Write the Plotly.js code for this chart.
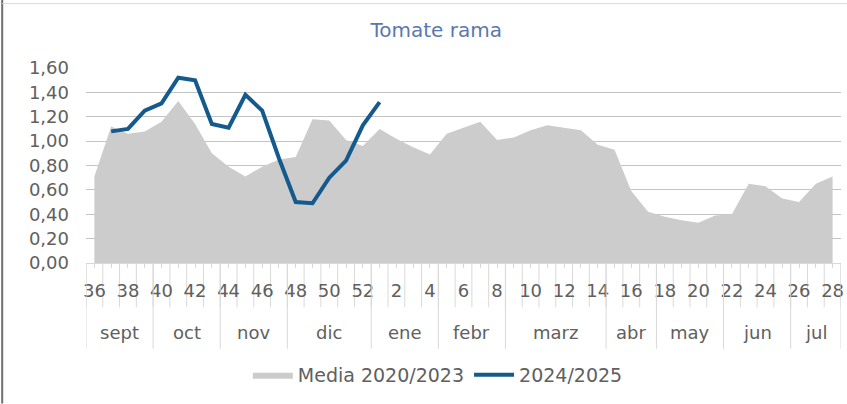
<!DOCTYPE html>
<html>
<head>
<meta charset="utf-8">
<script src="https://cdn.plot.ly/plotly-3.0.1.min.js"></script>
<style>html,body{margin:0;padding:0;background:#fff;}#chart{width:847px;height:404px;}</style>
</head>
<body>
<div id="chart"></div>
<script>
// Weeks (season Sept -> July)
const weeks = ["36","37","38","39","40","41","42","43","44","45","46","47","48","49","50","51","52",
  "1","2","3","4","5","6","7","8","9","10","11","12","13","14","15","16","17","18","19","20","21","22","23","24","25","26","27","28"];
// Media 2020/2023
const media = [0.71,1.12,1.06,1.08,1.16,1.33,1.14,0.90,0.79,0.71,0.79,0.85,0.87,1.18,1.17,1.01,0.96,
  1.10,1.02,0.95,0.89,1.06,1.11,1.16,1.01,1.03,1.09,1.13,1.11,1.09,0.97,0.93,0.59,0.42,0.38,0.35,0.33,0.39,0.40,0.65,0.63,0.53,0.50,0.65,0.71];
// 2024/2025
const season = [null,1.08,1.10,1.25,1.31,1.52,1.50,1.14,1.11,1.38,1.25,0.86,0.50,0.49,0.70,0.84,1.13,
  1.32,null,null,null,null,null,null,null,null,null,null,null,null,null,null,null,null,null,null,null,null,null,null,null,null,null,null,null];
// Month groups and number of weeks in each
const months = ["sept","oct","nov","dic","ene","febr","marz","abr","may","jun","jul"];
const monthWeeks = [4,4,4,5,4,4,6,3,4,4,3];
const yTicks = [0,0.2,0.4,0.6,0.8,1.0,1.2,1.4,1.6];

const FONT = "'DejaVu Sans', sans-serif";
const TXT = "#606060";

const tickText = weeks.map((w,i)=> i%2===0 ? w : "");

const shapes = [];
const annotations = [];
// boundary lines between every category
for (let i=0;i<=weeks.length;i++){
  shapes.push({type:"line", xref:"x", yref:"paper", x0:i-0.5, x1:i-0.5, y0:0, y1:-0.227,
    line:{color:"#d9d9d9", width:1}, layer:"below"});
}
// month separators and labels
let start = 0;
shapes.push({type:"line", xref:"x", yref:"paper", x0:-0.5, x1:-0.5, y0:0, y1:-0.44, line:{color:"#d9d9d9", width:1}});
months.forEach((m,k)=>{
  const end = start + monthWeeks[k];
  shapes.push({type:"line", xref:"x", yref:"paper", x0:end-0.5, x1:end-0.5, y0:0, y1:-0.44,
    line:{color:"#d9d9d9", width:1}});
  annotations.push({xref:"x", yref:"paper", x:(start+end-1)/2, y:-0.355, yanchor:"middle",
    text:m, showarrow:false, font:{family:FONT, size:18, color:TXT}});
  start = end;
});
// outer frame
shapes.push({type:"line", xref:"paper", yref:"paper", x0:-0.111, x1:-0.111, y0:-0.72, y1:1.35, line:{color:"#707070", width:2}});
shapes.push({type:"line", xref:"paper", yref:"paper", x0:-0.111, x1:1.01, y0:1.33, y1:1.33, line:{color:"#d9d9d9", width:1}});

const traces = [
  {type:"scatter", mode:"lines", name:"Media 2020/2023", x:weeks, y:media,
   fill:"tozeroy", fillcolor:"#cccccc", line:{color:"#cccccc", width:0}},
  {type:"scatter", mode:"lines", name:"2024/2025", x:weeks, y:season,
   line:{color:"#145a8c", width:4}, connectgaps:false}
];

const layout = {
  width:847, height:404,
  margin:{l:86, r:6, t:67.5, b:140.5},
  paper_bgcolor:"#ffffff", plot_bgcolor:"#ffffff",
  separators:",.",
  title:{text:"Tomate rama", x:0.515, xref:"container", xanchor:"center", y:0.925, yanchor:"middle",
    font:{family:FONT, size:20, color:"#5a78ad"}},
  xaxis:{type:"category", categoryorder:"array", categoryarray:weeks,
    range:[-0.5, weeks.length-0.5],
    tickmode:"array", tickvals:weeks, ticktext:tickText,
    ticks:"outside", ticklen:4, tickcolor:"#d9d9d9",
    ticklabelstandoff:7,
    showline:true, linecolor:"#d9d9d9", linewidth:1,
    showgrid:false, zeroline:false,
    tickfont:{family:FONT, size:18, color:TXT}, tickangle:0},
  yaxis:{range:[0,1.6], tickmode:"array", tickvals:yTicks, tickformat:".2f",
    showgrid:true, gridcolor:"#c4c4c4", gridwidth:1, zeroline:false, showline:false,
    ticks:"", ticklabelstandoff:16,
    tickfont:{family:FONT, size:18, color:TXT}},
  showlegend:true,
  legend:{orientation:"h", x:0.466, xanchor:"center", y:-0.574, yanchor:"middle",
    font:{family:FONT, size:19, color:TXT}, bgcolor:"rgba(0,0,0,0)", itemwidth:40},
  shapes:shapes,
  annotations:annotations
};

Plotly.newPlot("chart", traces, layout, {displayModeBar:false, staticPlot:true});
</script>
</body>
</html>
